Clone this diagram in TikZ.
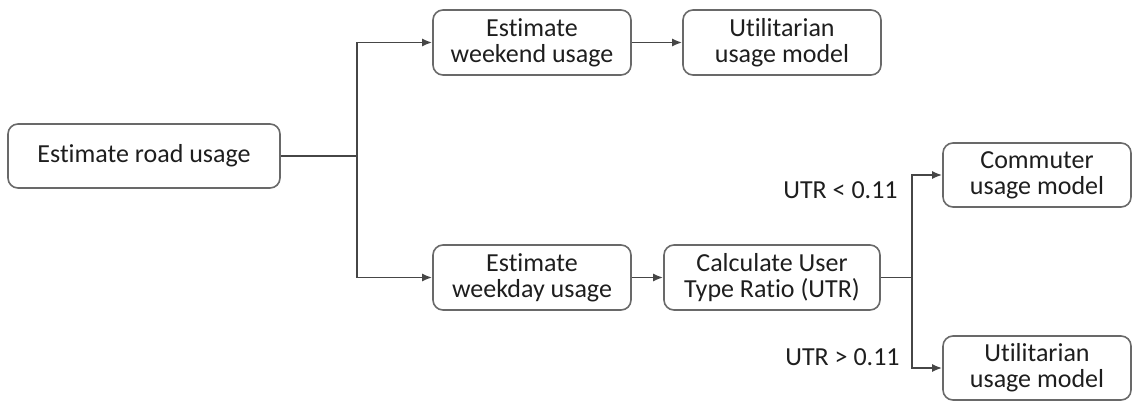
\documentclass[tikz,border=0pt]{standalone}
\usepackage{fontspec}
\setmainfont[Ligatures={NoCommon}]{Carlito}
\usetikzlibrary{arrows.meta}
\definecolor{boxc}{RGB}{105,105,105}
\definecolor{linec}{RGB}{70,70,70}
\definecolor{txtc}{RGB}{30,30,30}
\begin{document}
\begin{tikzpicture}[x=0.5pt,y=-0.5pt,
  box/.style={draw=boxc, line width=0.8pt, rounded corners=5pt, align=center,
    font=\fontsize{13}{13}\selectfont, text=txtc, inner sep=0pt},
  conn/.style={draw=linec, line width=0.9pt},
  arr/.style={conn, -{Latex[length=5pt,width=4pt]}},
  lbl/.style={font=\fontsize{13}{13}\selectfont, text=txtc, anchor=east, inner sep=0pt}]
\useasboundingbox (0,0) rectangle (1133,401);
\node[box, minimum width=136pt, minimum height=32pt] (road) at (144,156) {Estimate road usage};
\node[box, minimum width=99pt, minimum height=32.5pt] (wkend) at (532,42.5) {Estimate\\weekend usage};
\node[box, minimum width=99pt, minimum height=32.5pt] (util1) at (782,42.5) {Utilitarian\\usage model};
\node[box, minimum width=99pt, minimum height=32.5pt] (wkday) at (532,277.5) {Estimate\\weekday usage};
\node[box, minimum width=108pt, minimum height=32.5pt] (utr) at (772,277.5) {Calculate User\\Type Ratio (UTR)};
\node[box, minimum width=94pt, minimum height=32pt] (comm) at (1037,175) {Commuter\\usage model};
\node[box, minimum width=94pt, minimum height=32pt] (util2) at (1037,368) {Utilitarian\\usage model};
\coordinate (j1) at (357,156);
\coordinate (j2) at (912,277.5);
\node[lbl] (l1) at (898,190) {UTR < 0.11};
\node[lbl] (l2) at (900,357) {UTR > 0.11};
\draw[conn] (road.east) -- (j1);
\draw[arr] (j1) |- (wkend.west);
\draw[arr] (j1) |- (wkday.west);
\draw[arr] (wkend.east) -- (util1.west);
\draw[arr] (wkday.east) -- (utr.west);
\draw[conn] (utr.east) -- (j2);
\draw[arr] (j2) |- (comm.west);
\draw[arr] (j2) |- (util2.west);
\end{tikzpicture}
\end{document}
